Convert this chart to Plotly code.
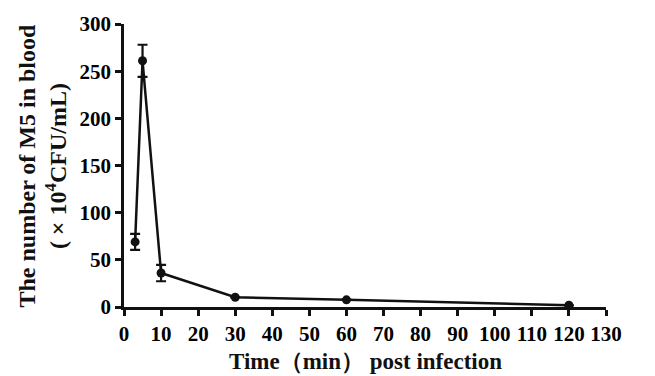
import plotly.graph_objects as go

time_min = [3, 5, 10, 30, 60, 120]
count = [69, 261, 36, 10.3, 7.6, 1.8]
err = [8.5, 17, 8.7, 0, 0, 0]
x_ticks = list(range(0, 131, 10))
y_ticks = list(range(0, 301, 50))

FONT = "Liberation Serif"

fig = go.Figure()
fig.add_trace(go.Scatter(
    x=time_min, y=count,
    mode="lines+markers",
    line=dict(color="#111111", width=2.5),
    marker=dict(color="#111111", size=9, symbol="circle"),
    error_y=dict(type="data", array=err, visible=True, color="#111111", thickness=2.2, width=5),
    cliponaxis=False,
    showlegend=False,
))

axis_common = dict(
    showline=True, linecolor="#111111", linewidth=2.5,
    ticks="outside", ticklen=6, tickwidth=2.5, tickcolor="#111111",
    showgrid=False, zeroline=False,
    tickfont=dict(family=FONT, size=21, color="#000000", weight=700),
)

fig.update_xaxes(range=[0, 130], tickvals=x_ticks,
                 ticktext=[f"<b>{v}</b>" for v in x_ticks], **axis_common)
fig.update_yaxes(range=[0, 300], tickvals=y_ticks,
                 ticktext=[f"<b>{v}</b>" for v in y_ticks], **axis_common)

fig.add_annotation(
    text="<b>Time（min） post infection</b>",
    xref="paper", yref="paper", x=0.5, y=-0.14, yanchor="top", xanchor="center",
    showarrow=False, font=dict(family=FONT, size=23, color="#111111"),
)
fig.add_annotation(
    text="<b>The number of M5 in blood</b><br><b>( × 10<sup>4</sup>CFU/mL)</b>",
    xref="paper", yref="paper", x=-0.17, y=0.5, xanchor="center", yanchor="middle",
    textangle=-90, showarrow=False,
    font=dict(family=FONT, size=24, color="#111111"),
)

fig.update_layout(
    width=655, height=376,
    margin=dict(l=124, r=49, t=16, b=69),
    plot_bgcolor="white", paper_bgcolor="white",
)

fig.write_html("out.html")
